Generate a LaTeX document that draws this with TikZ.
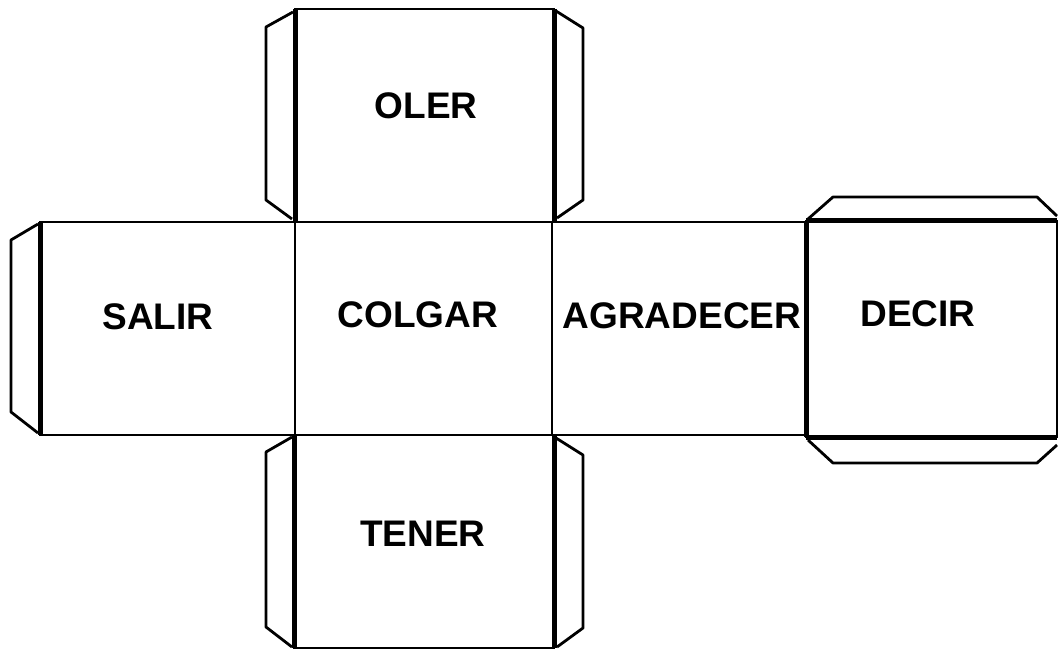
\documentclass[tikz,border=0pt]{standalone}
\usepackage{fontspec}
\setmainfont{Liberation Sans}
\begin{document}
\begin{tikzpicture}[x=1pt,y=-1pt,
  thin edge/.style={line width=2.8pt,line join=miter},
  fold/.style={line width=5pt},
  flap/.style={line width=2.8pt,line join=round},
  lbl/.style={font=\fontsize{37}{44}\selectfont\bfseries,anchor=base,inner sep=0pt}]
\useasboundingbox (0,0) rectangle (1059,652);
% faces
\draw[thin edge] (295,9) rectangle (554,222);
\draw[thin edge] (40,222) rectangle (295,435);
\draw[thin edge] (295,222) rectangle (552,435);
\draw[thin edge] (552,222) rectangle (806,435);
\draw[thin edge] (806,221) rectangle (1057,437);
\draw[thin edge] (294,435) rectangle (554,648);
% flaps
\draw[flap] (293,12) -- (266,27) -- (266,200) -- (292,219);
\draw[flap] (556,11) -- (583,28) -- (583,200) -- (557,218);
\draw[flap] (38,224) -- (11,240) -- (11,412) -- (38,433);
\draw[flap] (808,219) -- (833,197) -- (1037,197) -- (1057,216);
\draw[flap] (808,440) -- (833,463) -- (1037,463) -- (1057,445);
\draw[flap] (292,437) -- (266,452) -- (266,627) -- (292,647);
\draw[flap] (556,438) -- (583,455) -- (583,628) -- (557,647);
% fold lines
\draw[fold] (295,9) -- (295,222);
\draw[fold] (554,9) -- (554,222);
\draw[fold] (40,222) -- (40,435);
\draw[fold] (806,221) -- (806,437);
\draw[fold] (806,221) -- (1057,221);
\draw[fold] (806,437) -- (1057,437);
\draw[fold] (294,435) -- (294,648);
\draw[fold] (554,435) -- (554,648);
% labels
\node[lbl] (oler) at (426,119) {OLER};
\node[lbl] (salir) at (158,329) {SALIR};
\node[lbl] (colgar) at (418,327) {COLGAR};
\node[lbl] (agradecer) at (682,328) {AGRADECER};
\node[lbl] (decir) at (918,326) {DECIR};
\node[lbl] (tener) at (423,546) {TENER};
\end{tikzpicture}
\end{document}
